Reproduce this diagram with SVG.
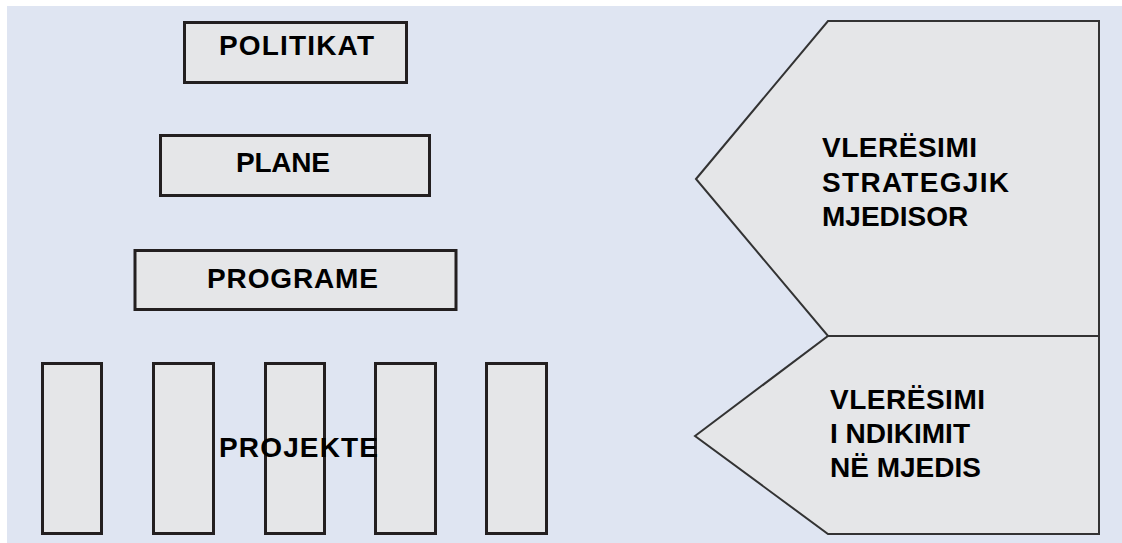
<svg xmlns="http://www.w3.org/2000/svg" width="1122" height="543" viewBox="0 0 1122 543">
<style>
.box{fill:#E5E6E8;stroke:#231F20;stroke-width:3}
.pent{fill:#E5E6E8;stroke:#333333;stroke-width:2;stroke-linejoin:miter}
.t{font-family:"Liberation Sans",Arial,sans-serif;font-weight:bold;font-size:28px;fill:#000}
</style>
<rect x="0" y="0" width="1122" height="543" fill="#FFFFFF"/>
<rect x="7" y="6" width="1115" height="537" fill="#DFE5F2"/>
<g id="politikat">
<rect class="box" x="184.5" y="22.5" width="222" height="60"/>
<text class="t" x="219" y="55" textLength="155" lengthAdjust="spacing">POLITIKAT</text>
</g>
<g id="plane">
<rect class="box" x="160.5" y="135.5" width="269" height="60"/>
<text class="t" x="236" y="172" textLength="94" lengthAdjust="spacing">PLANE</text>
</g>
<g id="programe">
<rect class="box" x="135" y="250.5" width="321" height="59"/>
<text class="t" x="207" y="288" textLength="171" lengthAdjust="spacing">PROGRAME</text>
</g>
<g id="projekte">
<rect class="box" x="42.5" y="363.5" width="59" height="170"/>
<rect class="box" x="153.5" y="363.5" width="60" height="170"/>
<rect class="box" x="265.5" y="363.5" width="59" height="170"/>
<rect class="box" x="375.5" y="363.5" width="60" height="170"/>
<rect class="box" x="486.5" y="363.5" width="60" height="170"/>
<text class="t" x="219" y="457" textLength="159" lengthAdjust="spacing">PROJEKTE</text>
</g>
<g id="vleresimi-strategjik">
<path class="pent" d="M696,179 L828,21 L1099,21 L1099,336 L828,336 Z"/>
<text class="t" x="822" y="157" textLength="155" lengthAdjust="spacing">VLERËSIMI</text>
<text class="t" x="822" y="192" textLength="187" lengthAdjust="spacing">STRATEGJIK</text>
<text class="t" x="822" y="226">MJEDISOR</text>
</g>
<g id="vleresimi-ndikimit">
<path class="pent" d="M695,436 L828,336 L1099,336 L1099,534 L828,534 Z"/>
<text class="t" x="830" y="409" textLength="155" lengthAdjust="spacing">VLERËSIMI</text>
<text class="t" x="830" y="443">I NDIKIMIT</text>
<text class="t" x="830" y="477">NË MJEDIS</text>
</g>
<g id="connectors"></g>
</svg>
